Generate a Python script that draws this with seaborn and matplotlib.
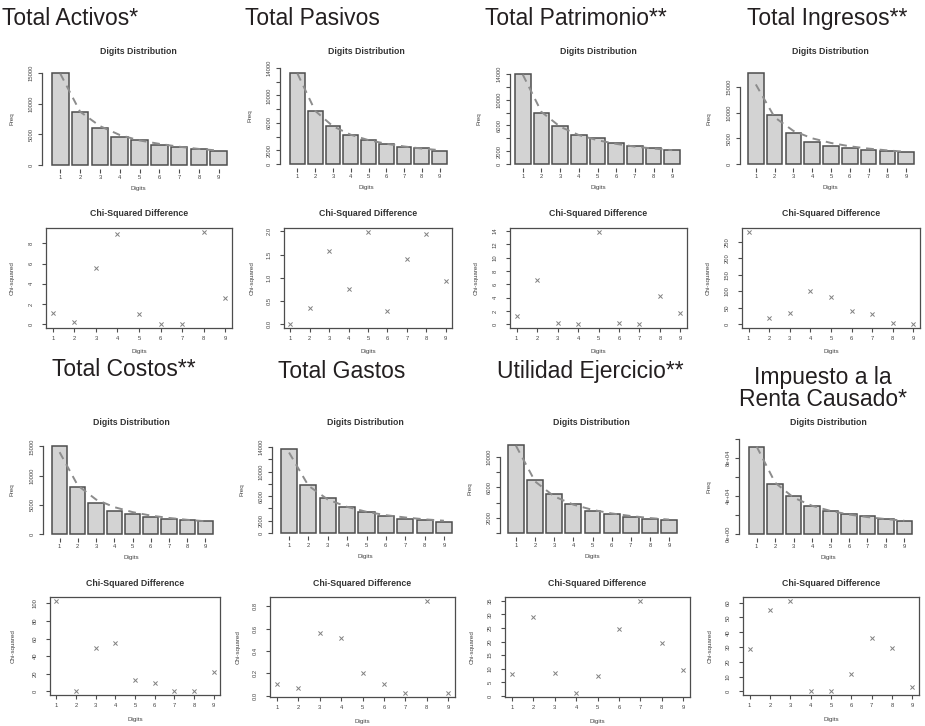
import numpy as np
import pandas as pd
import seaborn as sns
import matplotlib
matplotlib.use("Agg")
import matplotlib.pyplot as plt

sns.set_style("white")
plt.rcParams['font.family'] = ['Liberation Sans', 'DejaVu Sans']

digits = [1, 2, 3, 4, 5, 6, 7, 8, 9]

# first digit counts (bars) and expected Benford counts (dashed line)
freq_activos = [14950, 8620, 6050, 4640, 4040, 3330, 2950, 2670, 2350]
benf_activos = [14900, 8700, 6350, 4900, 4000, 3450, 2980, 2620, 2350]
freq_pasivos = [13270, 7680, 5590, 4180, 3500, 2920, 2530, 2290, 1950]
benf_pasivos = [13200, 7750, 5500, 4270, 3480, 2950, 2560, 2250, 2020]
freq_patrimonio = [14000, 8000, 5840, 4490, 3980, 3200, 2790, 2480, 2170]
benf_patrimonio = [13900, 8100, 5800, 4500, 3700, 3130, 2700, 2400, 2150]
freq_ingresos = [17730, 9550, 5970, 4290, 3570, 3050, 2660, 2530, 2340]
benf_ingresos = [15500, 9100, 6450, 5000, 4100, 3450, 3000, 2650, 2370]
freq_costos = [15060, 8070, 5230, 3920, 3410, 2960, 2610, 2330, 2270]
benf_costos = [14000, 8300, 5900, 4600, 3750, 3150, 2750, 2430, 2180]
freq_gastos = [13600, 7800, 5700, 4200, 3500, 2800, 2300, 2150, 1850]
benf_gastos = [13100, 7700, 5450, 4250, 3450, 2900, 2530, 2230, 2000]
freq_utilidad = [11600, 7000, 5100, 3800, 2900, 2450, 2050, 1900, 1750]
benf_utilidad = [11500, 6790, 4820, 3740, 3050, 2580, 2240, 1970, 1770]
freq_impuesto = [91600, 53000, 40000, 29800, 24200, 21000, 18600, 16100, 13700]
benf_impuesto = [92000, 54000, 38300, 29700, 24300, 20500, 17800, 15700, 14000]

# chi-squared difference per digit
chi_activos = [1.15, 0.26, 5.56, 8.95, 0.99, 0.0, 0.07, 9.14, 2.57]
chi_pasivos = [0.0, 0.35, 1.58, 0.76, 1.99, 0.29, 1.41, 1.93, 0.92]
chi_patrimonio = [1.25, 6.6, 0.2, 0.1, 13.9, 0.2, 0.02, 4.25, 1.75]
chi_ingresos = [280, 19, 35, 101, 83, 40, 33, 4, 0.5]
chi_costos = [103, 0.0, 49.6, 55, 12.6, 9.2, 0.1, 0.1, 22]
chi_gastos = [0.1, 0.07, 0.56, 0.52, 0.2, 0.1, 0.02, 0.85, 0.02]
chi_utilidad = [8, 29, 8.5, 1, 7.5, 24.5, 35, 19.5, 9.5]
chi_impuesto = [28.4, 55, 61.4, 0.1, 0.0, 12, 36, 29.3, 3.2]

# y ticks and their labels (blank = tick without label)
freq_ticks_5k = [0, 5000, 10000, 15000]
freq_labels_5k = ["0", "5000", "10000", "15000"]
freq_ticks_2k = [0, 2000, 4000, 6000, 8000, 10000, 12000, 14000]
freq_labels_2k = ["0", "2000", "", "6000", "", "10000", "", "14000"]
freq_ticks_util = [0, 2000, 4000, 6000, 8000, 10000]
freq_labels_util = ["", "2000", "", "6000", "", "10000"]
freq_ticks_imp = [0, 20000, 40000, 60000, 80000, 100000]
freq_labels_imp = ["0e+00", "", "4e+04", "", "8e+04", ""]

chi_ticks_activos = [0, 2, 4, 6, 8]
chi_ticks_pasivos = [0.0, 0.5, 1.0, 1.5, 2.0]
chi_ticks_patrimonio = [0, 2, 4, 6, 8, 10, 12, 14]
chi_ticks_ingresos = [0, 50, 100, 150, 200, 250]
chi_ticks_costos = [0, 20, 40, 60, 80, 100]
chi_ticks_gastos = [0.0, 0.2, 0.4, 0.6, 0.8]
chi_ticks_utilidad = [0, 5, 10, 15, 20, 25, 30, 35]
chi_ticks_impuesto = [0, 10, 20, 30, 40, 50, 60]

W, H = 925, 726
fig = plt.figure(figsize=(W / 100, H / 100), dpi=100)
fig.patch.set_facecolor("white")

EDGE = "#4d4d4d"
TXT = "#444444"


def box(l, t, r, b):
    return [l / W, 1 - b / H, (r - l) / W, (b - t) / H]


def vertical_yticks(ax):
    # R style: y tick labels parallel to the axis
    for lab in ax.get_yticklabels():
        lab.set_rotation(90)
        lab.set_va("center")


def bar_panel(lay, freq, benf, ticks, labels):
    axis_x, bar_l, bar_r, y_top, y_zero, title_y, lab_x = lay
    half = 0.5 / 1.2
    u = (bar_r - bar_l) / (8 + 2 * half)
    ext_l = (bar_l - axis_x) / u
    ext_r = 0.35
    ext_y = 0.04 * (y_zero - y_top)
    top_val = max(max(freq), ticks[-1])
    ax = fig.add_axes(box(axis_x, y_top - ext_y, bar_r + ext_r * u, y_zero + ext_y))
    df = pd.DataFrame({"Digits": [str(d) for d in digits], "Freq": freq})
    sns.barplot(data=df, x="Digits", y="Freq", ax=ax, color="#d3d3d3",
                saturation=1, edgecolor=EDGE, linewidth=1.1, width=1 / 1.2)
    ax.plot(range(9), benf, color="#8c8c8c", lw=1.4, ls=(0, (4, 3)))
    ax.set_xlim(-half - ext_l, 8 + half + ext_r)
    ax.set_ylim(-0.04 * top_val, 1.04 * top_val)
    ax.set_yticks(ticks, labels)
    for s in ["top", "right", "bottom"]:
        ax.spines[s].set_visible(False)
    ax.spines["left"].set_bounds(0, ticks[-1])
    ax.spines["left"].set_color(EDGE)
    ax.spines["left"].set_linewidth(0.9)
    ax.tick_params(axis="both", length=3, width=0.8, color=EDGE,
                   labelsize=4.2, labelcolor=TXT, pad=1.5, left=True, bottom=True)
    ax.tick_params(axis="y", pad=3)
    vertical_yticks(ax)
    ax.set_xlabel("Digits", fontsize=4.5, color=TXT, va="center")
    ax.set_ylabel("Freq", fontsize=4.5, color=TXT, va="center")
    h = (y_zero - y_top) * 1.08
    w = (bar_r + ext_r * u) - axis_x
    ax.xaxis.set_label_coords(0.5, -20 / h)
    ax.yaxis.set_label_coords(-(axis_x - lab_x) / w, 0.5)
    ax.set_facecolor("white")
    cx = (axis_x + bar_r + ext_r * u) / 2
    fig.text(cx / W, 1 - title_y / H, "Digits Distribution", fontsize=6.3,
             fontweight="bold", color="#333333", ha="center", va="center")
    return ax


def chi_panel(lay, vals, ticks, tick_labels=None):
    l, t, r, b, title_y, lab_x = lay
    ax = fig.add_axes(box(l, t, r, b))
    df = pd.DataFrame({"Digits": digits, "Chi-squared": vals})
    sns.scatterplot(data=df, x="Digits", y="Chi-squared", ax=ax, marker="x",
                    color="#808080", s=9, linewidth=0.7)
    lo, hi = min(vals), max(vals)
    p = 0.04 * (hi - lo)
    ax.set_ylim(lo - p, hi + p)
    ax.set_xlim(0.68, 9.32)
    ax.set_xticks(digits)
    if tick_labels is None:
        ax.set_yticks(ticks)
    else:
        ax.set_yticks(ticks, tick_labels)
    for s in ax.spines.values():
        s.set_color(EDGE)
        s.set_linewidth(0.9)
    ax.tick_params(axis="both", length=3, width=0.8, color=EDGE,
                   labelsize=4.2, labelcolor=TXT, pad=3, left=True, bottom=True)
    ax.tick_params(axis="y", pad=6)
    vertical_yticks(ax)
    ax.set_xlabel("Digits", fontsize=4.5, color=TXT, va="center")
    ax.set_ylabel("Chi-squared", fontsize=4.5, color=TXT, va="center")
    ax.xaxis.set_label_coords(0.5, -24 / (b - t))
    ax.yaxis.set_label_coords(-(l - lab_x) / (r - l), 0.5)
    ax.set_facecolor("white")
    fig.text((l + r) / 2 / W, 1 - title_y / H, "Chi-Squared Difference", fontsize=6.3,
             fontweight="bold", color="#333333", ha="center", va="center")
    return ax


# layout in pixels
bar_lay = [
    (42, 52, 227, 73, 165, 51, 12),
    (280, 290, 447, 68, 164, 51, 250),
    (510, 515, 680, 74, 164, 51, 479),
    (740, 748, 914, 73, 164, 51, 709),
    (43, 52, 213, 446, 534, 423, 12),
    (272, 281, 452, 447, 533, 423, 242),
    (500, 508, 677, 445, 533, 423, 470),
    (739, 749, 912, 439, 534, 423, 709),
]
chi_lay = [
    (46, 228, 232, 328, 214, 12),
    (284, 228, 452, 328, 214, 252),
    (510, 228, 687, 328, 214, 476),
    (742, 228, 920, 328, 214, 708),
    (50, 597, 220, 695, 583, 13),
    (270, 597, 455, 697, 583, 238),
    (505, 597, 690, 697, 583, 472),
    (743, 597, 919, 695, 583, 710),
]

freqs = [freq_activos, freq_pasivos, freq_patrimonio, freq_ingresos,
         freq_costos, freq_gastos, freq_utilidad, freq_impuesto]
benfs = [benf_activos, benf_pasivos, benf_patrimonio, benf_ingresos,
         benf_costos, benf_gastos, benf_utilidad, benf_impuesto]
fticks = [(freq_ticks_5k, freq_labels_5k), (freq_ticks_2k, freq_labels_2k),
          (freq_ticks_2k, freq_labels_2k), (freq_ticks_5k, freq_labels_5k),
          (freq_ticks_5k, freq_labels_5k), (freq_ticks_2k, freq_labels_2k),
          (freq_ticks_util, freq_labels_util), (freq_ticks_imp, freq_labels_imp)]
chis = [chi_activos, chi_pasivos, chi_patrimonio, chi_ingresos,
        chi_costos, chi_gastos, chi_utilidad, chi_impuesto]
cticks = [chi_ticks_activos, chi_ticks_pasivos, chi_ticks_patrimonio, chi_ticks_ingresos,
          chi_ticks_costos, chi_ticks_gastos, chi_ticks_utilidad, chi_ticks_impuesto]

for i in range(8):
    bar_panel(bar_lay[i], freqs[i], benfs[i], fticks[i][0], fticks[i][1])
    if i in (1, 5):
        chi_panel(chi_lay[i], chis[i], cticks[i], ["%.1f" % v for v in cticks[i]])
    else:
        chi_panel(chi_lay[i], chis[i], cticks[i])

# panel headings
names = ["Total Activos*", "Total Pasivos", "Total Patrimonio**", "Total Ingresos**",
         "Total Costos**", "Total Gastos", "Utilidad Ejercicio**", "Impuesto a la\nRenta Causado*"]
head_pos = [(2, 25), (245, 25), (485, 25), (747, 25),
            (52, 376), (278, 378), (497, 378), (823, 406)]
for i in range(8):
    x, y = head_pos[i]
    if i == 7:
        fig.text(x / W, 1 - y / H, names[i], fontsize=16.5, color="#231f20",
                 ha="center", va="baseline", multialignment="center", linespacing=0.95)
    else:
        fig.text(x / W, 1 - y / H, names[i], fontsize=16.5, color="#231f20",
                 ha="left", va="baseline")

fig.savefig("out.png", dpi=100, facecolor="white")
